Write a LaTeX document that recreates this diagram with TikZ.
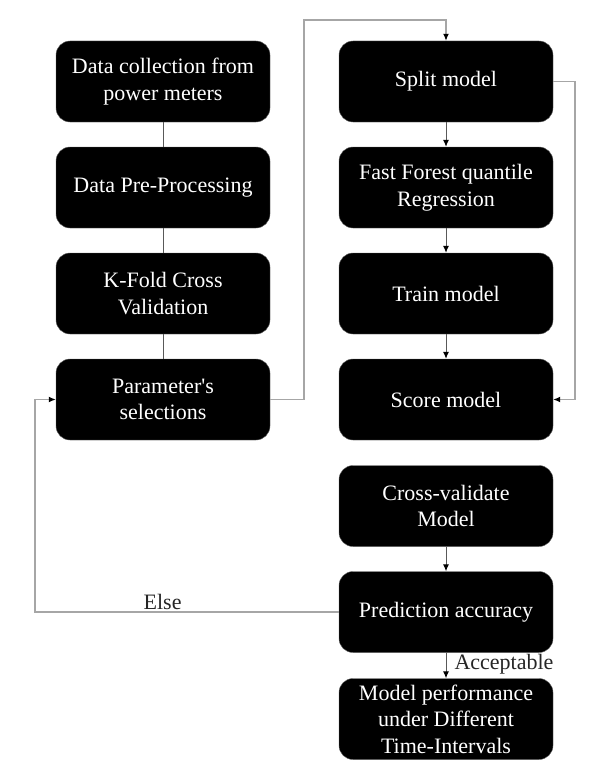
\documentclass[tikz,border=0pt]{standalone}
\usepackage{fontspec}
\setmainfont{Liberation Serif}
\usepackage{xcolor}
\usepackage{tikz}
\usetikzlibrary{shapes, arrows.meta}
\tikzstyle{block} = [draw=black!60, fill=black, text=white, rectangle, rounded corners=14pt, align=center, minimum height=81pt, minimum width=214pt, font=\fontsize{22}{26.5}\selectfont]
\tikzstyle{link} = [draw=black!65, line width=1pt]
\tikzstyle{loopline} = [draw=black!35, line width=1.3pt]
\tikzstyle{lbl} = [font=\fontsize{22}{26.5}\selectfont, text=black!85]

\begin{document}
\begin{tikzpicture}[x=1pt, y=-1pt, >={Latex[length=7pt, width=6pt, black]}]
  \useasboundingbox (0, 0) rectangle (592, 776);

  \node[block] at (163, 81.5) (collect) {Data collection from\\power meters};
  \node[block] at (163, 187.5) (preproc) {Data Pre-Processing};
  \node[block] at (163, 293.5) (kfold) {K-Fold Cross\\Validation};
  \node[block] at (163, 399.5) (param) {Parameter\textquotesingle s\\selections};

  \node[block] at (446, 81.5) (split) {Split model};
  \node[block] at (446, 187.5) (forest) {Fast Forest quantile\\Regression};
  \node[block] at (446, 293.5) (train) {Train model};
  \node[block] at (446, 399.5) (score) {Score model};
  \node[block] at (446, 506) (crossval) {Cross-validate\\Model};
  \node[block] at (446, 612) (accuracy) {Prediction accuracy};
  \node[block] at (446, 719) (perf) {Model performance\\under Different\\Time-Intervals};

  \coordinate (top) at (304, 20);
  \coordinate (rside) at (575, 81.5);
  \coordinate (lside) at (35, 612);

  \draw[link] (collect) -- (preproc);
  \draw[link] (preproc) -- (kfold);
  \draw[link] (kfold) -- (param);

  \draw[link, ->] (split) -- (forest);
  \draw[link, ->] (forest) -- (train);
  \draw[link, ->] (train) -- (score);
  \draw[link, ->] (crossval) -- (accuracy);
  \draw[link, ->] (accuracy) -- node[lbl, right, inner sep=0pt, xshift=8pt, yshift=1pt] {Acceptable} (perf);

  \draw[loopline, ->] (param.east) -| (top) -| (split.north);
  \draw[loopline, ->] (split.east) -- (rside) |- (score.east);
  \draw[loopline, ->] (accuracy.west) -- node[lbl, above, pos=0.58, inner sep=2pt] {Else} (lside) |- (param.west);

\end{tikzpicture}
\end{document}
